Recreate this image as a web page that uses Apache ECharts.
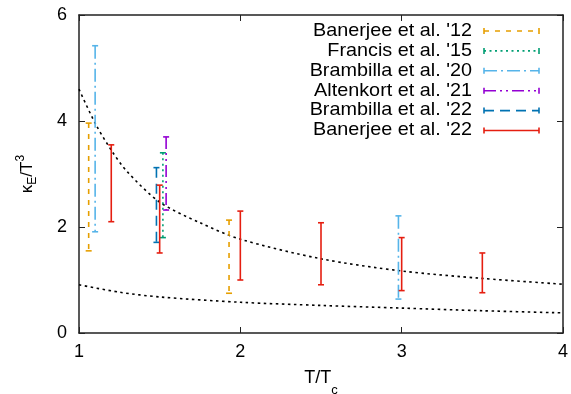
<!DOCTYPE html>
<html>
<head>
<meta charset="utf-8">
<script src="https://cdn.jsdelivr.net/npm/echarts@6/dist/echarts.min.js"></script>
<style>
html,body{margin:0;padding:0;background:#fff;}
#chart{width:571px;height:394px;}
</style>
</head>
<body>
<div id="chart"></div>
<script>
// ---- data ----
const xTicks = [1, 2, 3, 4];
const yTicks = [0, 2, 4, 6];

// upper and lower dotted model curves [T/Tc, kappa/T^3]
const upperCurve = [[1, 4.6], [1.1, 3.96], [1.2, 3.45], [1.3, 3.04], [1.5, 2.47], [1.75, 2.08], [2, 1.77], [2.5, 1.40], [3, 1.17], [3.5, 1.03], [4, 0.92]];
const lowerCurve = [[1, 0.91], [1.25, 0.77], [1.5, 0.68], [2, 0.58], [2.5, 0.52], [3, 0.47], [3.5, 0.42], [4, 0.38]];

// error bars [T/Tc, low, high]
const banerjee12 = [[1.06, 1.55, 3.96], [1.93, 0.75, 2.13]];
const francis15 = [[1.52, 1.80, 3.40]];
const brambilla20 = [[1.10, 1.91, 5.42], [2.98, 0.64, 2.21]];
const altenkort21 = [[1.54, 2.32, 3.70]];
const brambilla22 = [[1.48, 1.71, 3.12]];
const banerjee22 = [[1.20, 2.10, 3.55], [1.50, 1.51, 2.79], [2.00, 1.00, 2.30], [2.50, 0.91, 2.08], [3.00, 0.80, 1.80], [3.50, 0.76, 1.51]];

const seriesNames = ["Banerjee et al. '12", "Francis et al. '15", "Brambilla et al. '20", "Altenkort et al. '21", "Brambilla et al. '22", "Banerjee et al. '22"];
const seriesData = [banerjee12, francis15, brambilla20, altenkort21, brambilla22, banerjee22];

// ---- styles ----
const styles = [
  {color: '#E69F00', dash: [5, 6]},
  {color: '#009E73', dash: [2, 3.5]},
  {color: '#56B4E9', dash: [13, 4, 2, 4]},
  {color: '#9400D3', dash: [12, 4, 2, 4, 2, 4]},
  {color: '#0072B2', dash: [10, 6]},
  {color: '#E51E10', dash: null}
];
const FONT = '"Liberation Sans", Arial, sans-serif';
const LW = 1.6;
const CAP = 3;

function makeRender(st) {
  return function (params, api) {
    const x = api.value(0), lo = api.value(1), hi = api.value(2);
    const p1 = api.coord([x, hi]);
    const p2 = api.coord([x, lo]);
    const base = {stroke: st.color, lineWidth: LW};
    return {
      type: 'group',
      children: [
        {type: 'line', shape: {x1: p1[0], y1: p1[1], x2: p2[0], y2: p2[1]}, style: Object.assign({}, base, {lineDash: st.dash})},
        {type: 'line', shape: {x1: p1[0] - CAP, y1: p1[1], x2: p1[0] + CAP, y2: p1[1]}, style: base},
        {type: 'line', shape: {x1: p2[0] - CAP, y1: p2[1], x2: p2[0] + CAP, y2: p2[1]}, style: base}
      ]
    };
  };
}

const series = [];
[upperCurve, lowerCurve].forEach(function (c, i) {
  series.push({
    type: 'line', name: 'curve' + i, data: c, smooth: 0.3, symbol: 'none',
    lineStyle: {color: '#000', width: 1.6, type: [2.5, 3.5]}, z: 1, silent: true
  });
});
seriesData.forEach(function (d, i) {
  series.push({
    type: 'custom', name: seriesNames[i], data: d,
    encode: {x: 0, y: [1, 2]},
    renderItem: makeRender(styles[i]), z: 3, silent: true
  });
});

// legend drawn as graphics (text right aligned, sample line on right)
const graphic = [];
const legTextRight = 472, legX1 = 484, legX2 = 539, legY0 = 31, legDy = 19.9;
seriesNames.forEach(function (n, i) {
  const y = legY0 + i * legDy;
  const st = styles[i];
  graphic.push({type: 'text', x: legTextRight, y: y, scaleX: 1.12, style: {text: n, align: 'right', verticalAlign: 'middle', font: '17.7px ' + FONT, fill: '#000'}});
  graphic.push({type: 'line', shape: {x1: legX1, y1: y, x2: legX2, y2: y}, style: {stroke: st.color, lineWidth: LW, lineDash: st.dash}});
  graphic.push({type: 'line', shape: {x1: legX1, y1: y - CAP, x2: legX1, y2: y + CAP}, style: {stroke: st.color, lineWidth: LW}});
  graphic.push({type: 'line', shape: {x1: legX2, y1: y - CAP, x2: legX2, y2: y + CAP}, style: {stroke: st.color, lineWidth: LW}});
});

const axisLine = {show: true, onZero: false, lineStyle: {color: '#222', width: 1.5}};
const tick = {show: true, inside: true, length: 6, lineStyle: {color: '#222', width: 1}};

const option = {
  animation: false,
  backgroundColor: '#fff',
  grid: {left: 79, right: 8, top: 15, bottom: 61, containLabel: false, outerBoundsMode: 'none'},
  xAxis: [
    {type: 'value', min: 1, max: 4, interval: 1, position: 'bottom',
     axisLine: axisLine, axisTick: tick, splitLine: {show: false},
     axisLabel: {color: '#000', fontSize: 18, fontFamily: FONT, margin: 10,
       formatter: function (v) { return xTicks.indexOf(v) >= 0 ? String(v) : ''; }},
     name: '{n|T/T}{s|c}', nameLocation: 'middle', nameGap: 36,
     nameTextStyle: {rich: {
       n: {fontSize: 18, fontFamily: FONT, color: '#000', verticalAlign: 'top', lineHeight: 26},
       s: {fontSize: 13, fontFamily: FONT, color: '#000', verticalAlign: 'bottom', lineHeight: 26, padding: [0, 0, -2, 0]}
     }}},
    {type: 'value', min: 1, max: 4, interval: 1, position: 'top',
     axisLine: axisLine, axisTick: tick, splitLine: {show: false}, axisLabel: {show: false}}
  ],
  yAxis: [
    {type: 'value', min: 0, max: 6, interval: 2, position: 'left',
     axisLine: axisLine, axisTick: tick, splitLine: {show: false},
     axisLabel: {color: '#000', fontSize: 18, fontFamily: FONT, margin: 12,
       formatter: function (v) { return yTicks.indexOf(v) >= 0 ? String(v) : ''; }},
     name: '{n|κ}{s|E}{n|/T}{p|3}', nameLocation: 'middle', nameGap: 38, nameRotate: 90,
     nameTextStyle: {rich: {
       n: {fontSize: 17, fontFamily: FONT, color: '#000', lineHeight: 28, verticalAlign: 'middle'},
       s: {fontSize: 12, fontFamily: FONT, color: '#000', lineHeight: 28, verticalAlign: 'bottom', padding: [0, 0, 2, 0]},
       p: {fontSize: 12, fontFamily: FONT, color: '#000', lineHeight: 28, verticalAlign: 'top', padding: [2, 0, 0, 0]}
     }}},
    {type: 'value', min: 0, max: 6, interval: 2, position: 'right',
     axisLine: axisLine, axisTick: tick, splitLine: {show: false}, axisLabel: {show: false}}
  ],
  graphic: graphic,
  series: series
};

const chart = echarts.init(document.getElementById('chart'), null, {renderer: 'canvas'});
chart.setOption(option);
</script>
</body>
</html>
